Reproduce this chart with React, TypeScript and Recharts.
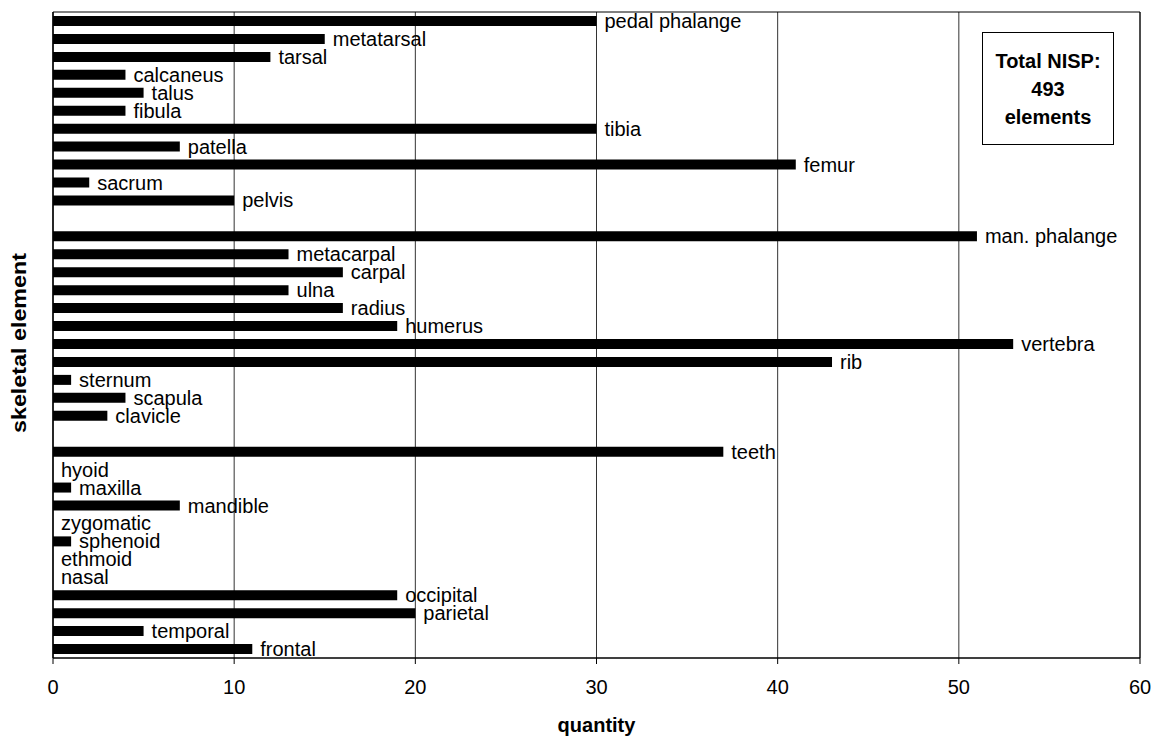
import {
  BarChart,
  Bar,
  XAxis,
  YAxis,
  CartesianGrid,
  LabelList,
  ReferenceArea,
} from "recharts";

// rows top to bottom; empty names are the spacer rows between body regions
const elements = [
  "pedal phalange", "metatarsal", "tarsal", "calcaneus", "talus", "fibula",
  "tibia", "patella", "femur", "sacrum", "pelvis", "",
  "man. phalange", "metacarpal", "carpal", "ulna", "radius", "humerus",
  "vertebra", "rib", "sternum", "scapula", "clavicle", "",
  "teeth", "hyoid", "maxilla", "mandible", "zygomatic", "sphenoid",
  "ethmoid", "nasal", "occipital", "parietal", "temporal", "frontal",
];

const quantities: (number | null)[] = [
  30, 15, 12, 4, 5, 4,
  30, 7, 41, 2, 10, null,
  51, 13, 16, 13, 16, 19,
  53, 43, 1, 4, 3, null,
  37, 0, 1, 7, 0, 1,
  0, 0, 19, 20, 5, 11,
];

const xTicks = [0, 10, 20, 30, 40, 50, 60];

const data = elements.map((name, i) => ({
  key: `row${i}`,
  label: name,
  value: quantities[i],
}));

const FONT = '"Liberation Sans", Arial, sans-serif';

function YTitle(props: any) {
  const { viewBox } = props;
  const cx = 19;
  const cy = viewBox.y + viewBox.height / 2 + 8;
  return (
    <text
      x={cx}
      y={cy}
      transform={`rotate(-90 ${cx} ${cy})`}
      textAnchor="middle"
      dominantBaseline="central"
      fontSize={20}
      fontWeight="bold"
      fontFamily={FONT}
      fill="#000"
      textLength={180}
      lengthAdjust="spacingAndGlyphs"
    >
      skeletal element
    </text>
  );
}

function EndLabel(props: any) {
  const { x, y, width, height, value } = props;
  if (!value) return null;
  return (
    <text
      x={Number(x) + Number(width || 0) + 8}
      y={Number(y) + Number(height) / 2 + 7}
      fontSize={20}
      fontFamily={FONT}
      fill="#000"
    >
      {value}
    </text>
  );
}

export default function App() {
  return (
    <div
      style={{
        position: "absolute",
        left: 0,
        top: 0,
        width: 1155,
        height: 736,
        background: "#fff",
        fontFamily: FONT,
      }}
    >
      <BarChart
        width={1155}
        height={736}
        data={data}
        layout="vertical"
        margin={{ top: 12, right: 15, bottom: 0, left: 0 }}
        barCategoryGap={0}
      >
        <CartesianGrid vertical horizontal={false} stroke="#333" />
        <XAxis
          type="number"
          domain={[0, 60]}
          ticks={xTicks}
          height={78}
          tickSize={6}
          tickMargin={16}
          stroke="#000"
          tick={{ fontSize: 20, fill: "#000", fontFamily: FONT }}
          label={{
            value: "quantity",
            position: "insideBottom",
            offset: 4,
            fontSize: 20,
            fontWeight: "bold",
            fill: "#000",
            fontFamily: FONT,
          }}
        />
        <YAxis
          type="category"
          dataKey="key"
          width={53}
          tick={false}
          tickLine={false}
          stroke="#000"
          label={<YTitle />}
        />
        <ReferenceArea x1={0} x2={60} fill="none" stroke="#000" />
        <Bar
          dataKey="value"
          fill="#000"
          barSize={10}
          minPointSize={(v: any) => (v === 0 ? 0.01 : 0)}
          isAnimationActive={false}
        >
          <LabelList dataKey="label" content={<EndLabel />} />
        </Bar>
      </BarChart>
      <div
        style={{
          position: "absolute",
          left: 982,
          top: 32,
          width: 130,
          height: 111,
          border: "1px solid #000",
          background: "#fff",
          display: "flex",
          flexDirection: "column",
          alignItems: "center",
          justifyContent: "center",
          fontWeight: "bold",
          fontSize: 20,
          lineHeight: "28px",
          textAlign: "center",
        }}
      >
        <div>Total NISP:</div>
        <div>493</div>
        <div>elements</div>
      </div>
    </div>
  );
}
